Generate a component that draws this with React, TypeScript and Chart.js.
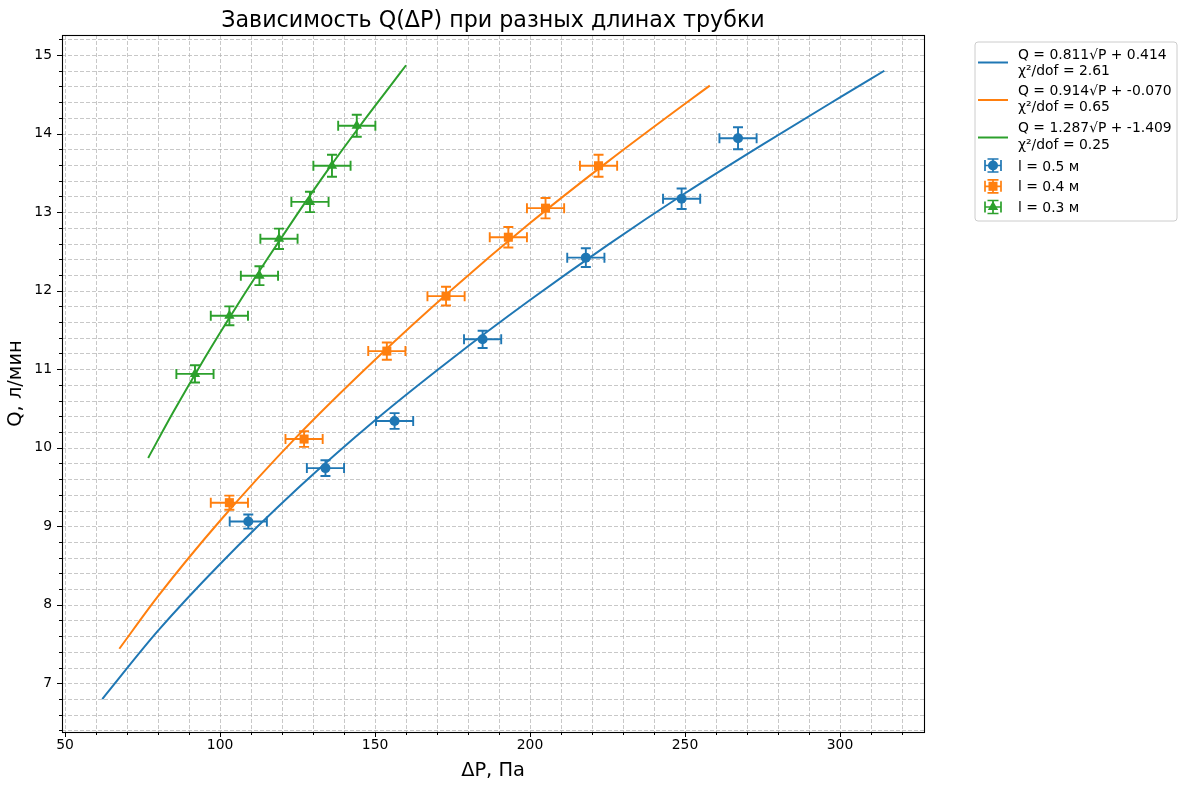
import React, { useEffect, useRef } from 'react';
import { Chart, registerables } from 'chart.js';

Chart.register(...registerables);

const FONT = '"DejaVu Sans", "Noto Sans", sans-serif';

const TITLE = 'Зависимость Q(ΔP) при разных длинах трубки';
const X_LABEL = 'ΔP, Па';
const Y_LABEL = 'Q, л/мин';

const X_TICKS = [50, 100, 150, 200, 250, 300];
const Y_TICKS = [7, 8, 9, 10, 11, 12, 13, 14, 15];
const X_MIN = 49.0;
const X_MAX = 327.1;
const Y_MIN = 6.38;
const Y_MAX = 15.255;

const COLORS = ['#1f77b4', '#ff7f0e', '#2ca02c'];

// Measured data, l = 0.5 m
const P_05 = [109.1, 134.0, 156.3, 184.7, 218.0, 248.9, 267.1];
const Q_05 = [9.06, 9.74, 10.34, 11.38, 12.42, 13.17, 13.94];
const PERR_05 = [6, 6, 6, 6, 6, 6, 6];
const QERR_05 = [0.09, 0.1, 0.1, 0.11, 0.12, 0.13, 0.14];

// l = 0.4 m
const P_04 = [103.0, 127.1, 153.8, 172.9, 193.0, 205.0, 222.1];
const Q_04 = [9.3, 10.11, 11.23, 11.93, 12.68, 13.05, 13.59];
const PERR_04 = [6, 6, 6, 6, 6, 6, 6];
const QERR_04 = [0.09, 0.1, 0.11, 0.12, 0.13, 0.13, 0.14];

// l = 0.3 m
const P_03 = [91.9, 103.0, 112.7, 119.0, 129.0, 136.1, 144.1];
const Q_03 = [10.94, 11.68, 12.19, 12.66, 13.13, 13.59, 14.1];
const PERR_03 = [6, 6, 6, 6, 6, 6, 6];
const QERR_03 = [0.11, 0.12, 0.12, 0.13, 0.13, 0.14, 0.14];

// Fit curves
const FIT_P_05 = [62, 80, 100, 125, 150, 175, 200, 225, 250, 275, 300, 314.3];
const FIT_Q_05 = [6.8, 7.67, 8.52, 9.48, 10.35, 11.14, 11.88, 12.58, 13.24, 13.86, 14.46, 14.8];
const FIT_P_04 = [67.5, 80, 100, 125, 150, 175, 200, 225, 250, 258];
const FIT_Q_04 = [7.44, 8.11, 9.07, 10.15, 11.12, 12.02, 12.86, 13.64, 14.38, 14.61];
const FIT_P_03 = [76.8, 85, 95, 105, 115, 125, 135, 145, 155, 160];
const FIT_Q_03 = [9.87, 10.46, 11.14, 11.78, 12.39, 12.98, 13.55, 14.09, 14.61, 14.87];

const FIT_LABELS = [
  ['Q = 0.811√P + 0.414', 'χ²/dof = 2.61'],
  ['Q = 0.914√P + -0.070', 'χ²/dof = 0.65'],
  ['Q = 1.287√P + -1.409', 'χ²/dof = 0.25'],
];
const DATA_LABELS = ['l = 0.5 м', 'l = 0.4 м', 'l = 0.3 м'];
const POINT_STYLES = ['circle', 'rect', 'triangle'];
const POINT_RADII = [5, 6.4, 6];

const MEAS = [
  { p: P_05, q: Q_05, pe: PERR_05, qe: QERR_05 },
  { p: P_04, q: Q_04, pe: PERR_04, qe: QERR_04 },
  { p: P_03, q: Q_03, pe: PERR_03, qe: QERR_03 },
];
const FITS = [
  { p: FIT_P_05, q: FIT_Q_05 },
  { p: FIT_P_04, q: FIT_Q_04 },
  { p: FIT_P_03, q: FIT_Q_03 },
];

const AREA = { left: 62, top: 35, right: 924, bottom: 732 };

function crisp(v: number) {
  return Math.round(v) + 0.5;
}

function drawPointStyle(ctx: CanvasRenderingContext2D, style: string, x: number, y: number, r: number, color: string) {
  ctx.save();
  ctx.fillStyle = color;
  ctx.beginPath();
  if (style === 'circle') {
    ctx.arc(x, y, r, 0, Math.PI * 2);
  } else if (style === 'rect') {
    const s = r * Math.SQRT1_2;
    ctx.rect(x - s, y - s, 2 * s, 2 * s);
  } else {
    for (let k = 0; k < 3; k++) {
      const a = (k * 2 * Math.PI) / 3;
      const px = x + Math.sin(a) * r;
      const py = y - Math.cos(a) * r;
      if (k === 0) ctx.moveTo(px, py);
      else ctx.lineTo(px, py);
    }
    ctx.closePath();
  }
  ctx.fill();
  ctx.restore();
}

const mplPlugin = {
  id: 'mplStyle',
  beforeDatasetsDraw(chart: any) {
    const { ctx, chartArea: a, scales } = chart;
    const xs = scales.x;
    const ys = scales.y;
    ctx.save();
    ctx.strokeStyle = 'rgba(176,176,176,0.7)';
    ctx.lineWidth = 1;
    ctx.setLineDash([4, 2]);
    for (let k = 5; k * 10 <= X_MAX; k++) {
      const px = crisp(xs.getPixelForValue(k * 10));
      ctx.beginPath();
      ctx.moveTo(px, a.top);
      ctx.lineTo(px, a.bottom);
      ctx.stroke();
    }
    for (let k = Math.ceil(Y_MIN * 5); k / 5 <= Y_MAX; k++) {
      const py = crisp(ys.getPixelForValue(k / 5));
      ctx.beginPath();
      ctx.moveTo(a.left, py);
      ctx.lineTo(a.right, py);
      ctx.stroke();
    }
    ctx.restore();
  },
  beforeDatasetDraw(chart: any, args: any) {
    const idx = args.index;
    if (idx > 2) return;
    const m = MEAS[idx];
    const { ctx, scales } = chart;
    const xs = scales.x;
    const ys = scales.y;
    const cap = 5;
    ctx.save();
    ctx.strokeStyle = COLORS[idx];
    ctx.lineWidth = 1.9;
    ctx.setLineDash([]);
    for (let i = 0; i < m.p.length; i++) {
      const cx = xs.getPixelForValue(m.p[i]);
      const cy = ys.getPixelForValue(m.q[i]);
      const x0 = xs.getPixelForValue(m.p[i] - m.pe[i]);
      const x1 = xs.getPixelForValue(m.p[i] + m.pe[i]);
      const y0 = ys.getPixelForValue(m.q[i] - m.qe[i]);
      const y1 = ys.getPixelForValue(m.q[i] + m.qe[i]);
      ctx.beginPath();
      ctx.moveTo(x0, cy);
      ctx.lineTo(x1, cy);
      ctx.moveTo(x0, cy - cap);
      ctx.lineTo(x0, cy + cap);
      ctx.moveTo(x1, cy - cap);
      ctx.lineTo(x1, cy + cap);
      ctx.moveTo(cx, y0);
      ctx.lineTo(cx, y1);
      ctx.moveTo(cx - cap, y0);
      ctx.lineTo(cx + cap, y0);
      ctx.moveTo(cx - cap, y1);
      ctx.lineTo(cx + cap, y1);
      ctx.stroke();
    }
    ctx.restore();
  },
  afterDraw(chart: any) {
    const { ctx, chartArea: a, scales } = chart;
    const xs = scales.x;
    const ys = scales.y;
    ctx.save();
    ctx.setLineDash([]);
    // frame
    ctx.strokeStyle = '#000';
    ctx.lineWidth = 1.1;
    ctx.strokeRect(Math.round(a.left) + 0.5, Math.round(a.top) + 0.5, Math.round(a.right - a.left), Math.round(a.bottom - a.top));
    // ticks
    ctx.lineWidth = 1;
    for (let k = 5; k * 10 <= X_MAX; k++) {
      const v = k * 10;
      const px = crisp(xs.getPixelForValue(v));
      const len = v % 50 === 0 ? 5 : 3;
      ctx.beginPath();
      ctx.moveTo(px, a.bottom);
      ctx.lineTo(px, a.bottom + len);
      ctx.stroke();
    }
    for (let k = Math.ceil(Y_MIN * 5); k / 5 <= Y_MAX; k++) {
      const py = crisp(ys.getPixelForValue(k / 5));
      const len = k % 5 === 0 ? 5 : 3;
      ctx.beginPath();
      ctx.moveTo(a.left, py);
      ctx.lineTo(a.left - len, py);
      ctx.stroke();
    }
    // title
    ctx.fillStyle = '#000';
    ctx.font = `22.2px ${FONT}`;
    ctx.textAlign = 'center';
    ctx.textBaseline = 'alphabetic';
    ctx.fillText(TITLE, (a.left + a.right) / 2, 27);
    // axis labels
    ctx.font = `19.4px ${FONT}`;
    ctx.fillText(X_LABEL, (a.left + a.right) / 2, 776);
    ctx.save();
    ctx.translate(21, (a.top + a.bottom) / 2);
    ctx.rotate(-Math.PI / 2);
    ctx.fillText(Y_LABEL, 0, 0);
    ctx.restore();

    // legend
    const lx = 975;
    const ly = 42;
    const lw = 202;
    const lh = 179;
    const r = 3;
    ctx.beginPath();
    ctx.moveTo(lx + r, ly);
    ctx.lineTo(lx + lw - r, ly);
    ctx.quadraticCurveTo(lx + lw, ly, lx + lw, ly + r);
    ctx.lineTo(lx + lw, ly + lh - r);
    ctx.quadraticCurveTo(lx + lw, ly + lh, lx + lw - r, ly + lh);
    ctx.lineTo(lx + r, ly + lh);
    ctx.quadraticCurveTo(lx, ly + lh, lx, ly + lh - r);
    ctx.lineTo(lx, ly + r);
    ctx.quadraticCurveTo(lx, ly, lx + r, ly);
    ctx.closePath();
    ctx.fillStyle = 'rgba(255,255,255,0.8)';
    ctx.fill();
    ctx.strokeStyle = '#cccccc';
    ctx.lineWidth = 1;
    ctx.stroke();

    ctx.font = `13.9px ${FONT}`;
    ctx.textAlign = 'left';
    ctx.textBaseline = 'alphabetic';
    const textX = 1018;
    const fitBase = [58.5, 95, 132.3];
    const fitHandle = [62.5, 100, 137.5];
    for (let i = 0; i < 3; i++) {
      ctx.strokeStyle = COLORS[i];
      ctx.lineWidth = 2;
      ctx.beginPath();
      ctx.moveTo(978, fitHandle[i]);
      ctx.lineTo(1008, fitHandle[i]);
      ctx.stroke();
      ctx.fillStyle = '#000';
      ctx.fillText(FIT_LABELS[i][0], textX, fitBase[i]);
      ctx.fillText(FIT_LABELS[i][1], textX, fitBase[i] + 16.2);
    }
    const dataCenter = [165.5, 186.3, 207];
    for (let i = 0; i < 3; i++) {
      const cx = 993;
      const cy = dataCenter[i];
      ctx.strokeStyle = COLORS[i];
      ctx.lineWidth = 1.7;
      const hx = 8;
      const hy = 6.5;
      const c = 5.5;
      ctx.beginPath();
      ctx.moveTo(cx - hx, cy);
      ctx.lineTo(cx + hx, cy);
      ctx.moveTo(cx - hx, cy - c);
      ctx.lineTo(cx - hx, cy + c);
      ctx.moveTo(cx + hx, cy - c);
      ctx.lineTo(cx + hx, cy + c);
      ctx.moveTo(cx, cy - hy);
      ctx.lineTo(cx, cy + hy);
      ctx.moveTo(cx - c, cy - hy);
      ctx.lineTo(cx + c, cy - hy);
      ctx.moveTo(cx - c, cy + hy);
      ctx.lineTo(cx + c, cy + hy);
      ctx.stroke();
      drawPointStyle(ctx, POINT_STYLES[i], cx, cy, POINT_RADII[i], COLORS[i]);
      ctx.fillStyle = '#000';
      ctx.fillText(DATA_LABELS[i], textX, cy + 5);
    }
    ctx.restore();
  },
};

export default function App() {
  const canvasRef = useRef<HTMLCanvasElement | null>(null);

  useEffect(() => {
    const canvas = canvasRef.current;
    if (!canvas) return;

    const datasets: any[] = [];
    for (let i = 0; i < 3; i++) {
      const m = MEAS[i];
      datasets.push({
        label: DATA_LABELS[i],
        data: m.p.map((p, j) => ({ x: p, y: m.q[j] })),
        showLine: false,
        pointStyle: POINT_STYLES[i],
        pointRadius: POINT_RADII[i],
        pointBorderWidth: 0,
        backgroundColor: COLORS[i],
        borderColor: COLORS[i],
      });
    }
    for (let i = 0; i < 3; i++) {
      const f = FITS[i];
      datasets.push({
        label: FIT_LABELS[i].join(' '),
        data: f.p.map((p, j) => ({ x: p, y: f.q[j] })),
        showLine: true,
        pointRadius: 0,
        borderWidth: 2,
        borderColor: COLORS[i],
        backgroundColor: COLORS[i],
        cubicInterpolationMode: 'monotone',
        fill: false,
      });
    }

    const chart = new Chart(canvas, {
      type: 'scatter',
      data: { datasets },
      plugins: [mplPlugin],
      options: {
        animation: false,
        responsive: false,
        devicePixelRatio: 1,
        events: [],
        layout: {
          padding: { left: 0, top: AREA.top, right: 1186 - AREA.right, bottom: 0 },
        },
        plugins: {
          legend: { display: false },
          tooltip: { enabled: false },
          title: { display: false },
        },
        scales: {
          x: {
            type: 'linear',
            min: X_MIN,
            max: X_MAX,
            grid: { display: false, drawTicks: false },
            border: { display: false },
            afterBuildTicks: (scale: any) => {
              scale.ticks = X_TICKS.map((v) => ({ value: v }));
            },
            afterFit: (scale: any) => {
              scale.height = 790 - AREA.bottom;
            },
            ticks: {
              color: '#000',
              padding: 5,
              maxRotation: 0,
              autoSkip: false,
              font: { family: FONT, size: 13.9 },
              callback: (v: any) => String(v),
            },
          },
          y: {
            type: 'linear',
            min: Y_MIN,
            max: Y_MAX,
            grid: { display: false, drawTicks: false },
            border: { display: false },
            afterBuildTicks: (scale: any) => {
              scale.ticks = Y_TICKS.map((v) => ({ value: v }));
            },
            afterFit: (scale: any) => {
              scale.width = AREA.left;
            },
            ticks: {
              color: '#000',
              padding: 10,
              autoSkip: false,
              font: { family: FONT, size: 13.9 },
              callback: (v: any) => String(v),
            },
          },
        },
      } as any,
    });

    return () => {
      chart.destroy();
    };
  }, []);

  return (
    <div style={{ position: 'absolute', left: 0, top: 0, width: 1186, height: 790, background: '#fff' }}>
      <canvas ref={canvasRef} width={1186} height={790} style={{ display: 'block', width: 1186, height: 790 }} />
    </div>
  );
}
